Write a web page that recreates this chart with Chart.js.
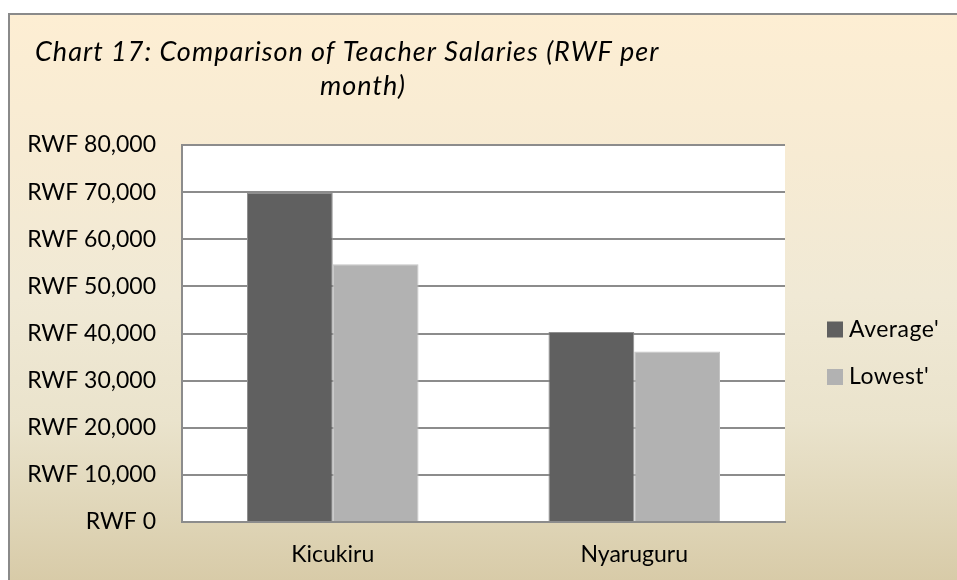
<!DOCTYPE html>
<html>
<head>
<meta charset="utf-8">
<title>Chart 17: Comparison of Teacher Salaries</title>
<script src="https://cdn.jsdelivr.net/npm/chart.js@4.4.1/dist/chart.umd.min.js"></script>
<style>
  html, body { margin: 0; padding: 0; background: #ffffff; }
  canvas { display: block; }
</style>
</head>
<body>
<canvas id="salaryChart" width="957" height="580"></canvas>
<script>
// datos del gráfico
const categories = ['Kicukiru', 'Nyaruguru'];
const seriesNames = ["Average'", "Lowest'"];
const averageSalary = [69800, 40300];
const lowestSalary = [54700, 36200];
const titleLines = ['Chart 17: Comparison of Teacher Salaries (RWF per', 'month)'];
const yMin = 0;
const yMax = 80000;
const yStep = 10000;

const FONT = 'Lato, "Open Sans", sans-serif';
const GRID = '#8c8c8c';

// fondo tipo pergamino + área de trazado blanca
const backgroundPlugin = {
    id: 'parchment',
    beforeDraw(chart) {
        const ctx = chart.ctx;
        const { width, height } = chart;
        const area = chart.chartArea;
        ctx.save();
        ctx.fillStyle = '#ffffff';
        ctx.fillRect(0, 0, width, height);
        const grad = ctx.createLinearGradient(0, 13, 0, height);
        grad.addColorStop(0, '#fdeed3');
        grad.addColorStop(0.25, '#f7ebd3');
        grad.addColorStop(0.5, '#f0e9d5');
        grad.addColorStop(0.72, '#eae3cc');
        grad.addColorStop(0.89, '#dfd5b7');
        grad.addColorStop(1, '#d8cba8');
        ctx.fillStyle = grad;
        ctx.fillRect(9, 14, width, height);
        ctx.strokeStyle = '#8a8a8a';
        ctx.lineWidth = 2;
        ctx.strokeRect(9, 14, width + 10, height + 10);
        ctx.fillStyle = '#ffffff';
        ctx.fillRect(area.left, area.top, area.right - area.left, area.bottom - area.top);
        ctx.restore();
    }
};

// título en dos líneas, en cursiva
const titlePlugin = {
    id: 'twoLineTitle',
    afterDraw(chart) {
        const ctx = chart.ctx;
        ctx.save();
        ctx.fillStyle = '#000000';
        ctx.font = 'italic 27px ' + FONT;
        ctx.letterSpacing = '1px';
        ctx.textBaseline = 'alphabetic';
        ctx.textAlign = 'left';
        ctx.fillText(titleLines[0], 35, 61);
        ctx.textAlign = 'center';
        ctx.fillText(titleLines[1], 363, 95);
        ctx.restore();
    }
};

// leyenda a la derecha
const legendPlugin = {
    id: 'sideLegend',
    afterDraw(chart) {
        const ctx = chart.ctx;
        ctx.save();
        ctx.font = '23px ' + FONT;
        ctx.letterSpacing = '0.5px';
        ctx.textBaseline = 'middle';
        ctx.textAlign = 'left';
        chart.data.datasets.forEach((ds, i) => {
            const top = 321.5 + i * 47.5;
            ctx.fillStyle = ds.backgroundColor;
            ctx.fillRect(827, top, 16, 16);
            ctx.fillStyle = '#000000';
            ctx.fillText(ds.label, 849, top + 8);
        });
        ctx.restore();
    }
};

const ctx = document.getElementById('salaryChart').getContext('2d');
new Chart(ctx, {
    type: 'bar',
    data: {
        labels: categories,
        datasets: [
            {
                label: seriesNames[0],
                data: averageSalary,
                backgroundColor: '#606060',
                borderColor: '#8f8f8f',
                borderWidth: 1,
                categoryPercentage: 0.569,
                barPercentage: 1
            },
            {
                label: seriesNames[1],
                data: lowestSalary,
                backgroundColor: '#b2b2b2',
                borderColor: '#c4c4c4',
                borderWidth: 1,
                categoryPercentage: 0.569,
                barPercentage: 1
            }
        ]
    },
    options: {
        responsive: false,
        animation: false,
        layout: { padding: { top: 145, right: 172, left: 0, bottom: 0 } },
        plugins: {
            legend: { display: false },
            title: { display: false },
            tooltip: { enabled: false }
        },
        scales: {
            x: {
                grid: { display: false, drawTicks: false },
                border: { display: true, color: GRID, width: 2 },
                ticks: {
                    color: '#000000',
                    font: { family: FONT, size: 23 },
                    padding: 19
                },
                afterFit(scale) { scale.height = 58; }
            },
            y: {
                min: yMin,
                max: yMax,
                grid: { color: GRID, lineWidth: 2, drawTicks: false },
                border: { display: true, color: GRID, width: 2 },
                ticks: {
                    stepSize: yStep,
                    color: '#000000',
                    font: { family: FONT, size: 23 },
                    padding: 26,
                    callback: v => 'RWF ' + Number(v).toLocaleString('en-US')
                },
                afterFit(scale) { scale.width = 182; }
            }
        }
    },
    plugins: [backgroundPlugin, titlePlugin, legendPlugin]
});
</script>
</body>
</html>
